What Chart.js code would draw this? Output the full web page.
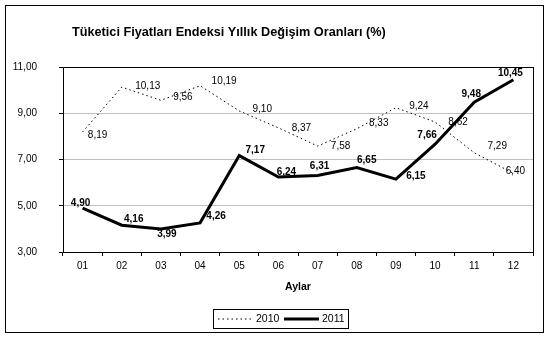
<!DOCTYPE html>
<html>
<head>
<meta charset="utf-8">
<script src="https://cdn.jsdelivr.net/npm/chart.js@4.4.0/dist/chart.umd.min.js"></script>
<style>
  html, body { margin: 0; padding: 0; background: #fff; }
  #wrap { width: 548px; height: 337px; }
</style>
</head>
<body>
<div id="wrap"><canvas id="cpi-chart" width="548" height="337"></canvas></div>
<script>
const months = ['01', '02', '03', '04', '05', '06', '07', '08', '09', '10', '11', '12'];
const cpi2010 = [8.19, 10.13, 9.56, 10.19, 9.10, 8.37, 7.58, 8.33, 9.24, 8.62, 7.29, 6.40];
const cpi2011 = [4.90, 4.16, 3.99, 4.26, 7.17, 6.24, 6.31, 6.65, 6.15, 7.66, 9.48, 10.45];
const yTicks = [3, 5, 7, 9, 11];

// where each value label sits relative to its point (dx, dy)
const offsets2010 = [[15,3],[26,-1],[22,-3],[24,-4],[23,-2],[23,0],[23,0],[22,-5],[23,-1],[23,0],[23,-7],[2,-2]];
const offsets2011 = [[-2,-5],[12,-6],[6,5],[16,-7],[16,-5],[8,-5],[2,-9],[10,-7],[20,-3],[-8,-9],[-3,-8],[-3,-6]];

const FONT = '"Liberation Sans", Arial, sans-serif';

function fmt(v) {
    return v.toFixed(2).replace('.', ',');
}

function drawLabels(chart, index, offsets, bold) {
    const ctx = chart.ctx;
    const meta = chart.getDatasetMeta(index);
    const values = chart.data.datasets[index].data;
    ctx.save();
    ctx.font = (bold ? 'bold ' : '') + '10px ' + FONT;
    ctx.fillStyle = '#000';
    ctx.textAlign = 'center';
    ctx.textBaseline = 'middle';
    meta.data.forEach((pt, i) => {
        ctx.fillText(fmt(values[i]), pt.x + offsets[i][0], pt.y + offsets[i][1]);
    });
    ctx.restore();
}

const decor = {
    id: 'decor',
    beforeDatasetsDraw(chart) {
        drawLabels(chart, 0, offsets2010, false);
    },
    afterDatasetsDraw(chart) {
        drawLabels(chart, 1, offsets2011, true);
    },
    afterDraw(chart) {
        const ctx = chart.ctx;
        const a = chart.chartArea;
        ctx.save();
        // outer frame
        ctx.strokeStyle = '#000';
        ctx.lineWidth = 1;
        ctx.strokeRect(5.5, 5.5, 538, 327);
        // plot frame
        ctx.strokeRect(Math.round(a.left) + 0.5, Math.round(a.top) + 0.5, Math.round(a.right - a.left), Math.round(a.bottom - a.top));

        ctx.fillStyle = '#000';
        ctx.textBaseline = 'alphabetic';
        ctx.font = 'bold 12.7px ' + FONT;
        ctx.textAlign = 'left';
        ctx.fillText('Tüketici Fiyatları Endeksi Yıllık Değişim Oranları (%)', 72, 36);

        ctx.font = 'bold 10.5px ' + FONT;
        ctx.textAlign = 'center';
        ctx.textBaseline = 'middle';
        ctx.fillText('Aylar', (a.left + a.right) / 2, 287);

        // legend
        ctx.strokeRect(213.5, 309.5, 135, 19);
        const ly = 319;
        ctx.beginPath();
        ctx.setLineDash([1.5, 3]);
        ctx.lineWidth = 1;
        ctx.moveTo(218, ly);
        ctx.lineTo(254, ly);
        ctx.stroke();
        ctx.setLineDash([]);
        ctx.beginPath();
        ctx.lineWidth = 3;
        ctx.moveTo(284, ly);
        ctx.lineTo(319, ly);
        ctx.stroke();
        ctx.font = '10.5px ' + FONT;
        ctx.textAlign = 'left';
        ctx.fillText('2010', 256, ly);
        ctx.fillText('2011', 322, ly);
        ctx.restore();
    }
};

new Chart(document.querySelector('#cpi-chart').getContext('2d'), {
    type: 'line',
    data: {
        labels: months,
        datasets: [{
            label: '2010',
            data: cpi2010,
            borderColor: '#000',
            borderWidth: 1,
            borderDash: [1.5, 3],
            pointRadius: 0,
            tension: 0,
            order: 1
        }, {
            label: '2011',
            data: cpi2011,
            borderColor: '#000',
            borderWidth: 3,
            pointRadius: 0,
            tension: 0,
            order: 0
        }]
    },
    options: {
        responsive: false,
        animation: false,
        events: [],
        layout: { padding: { left: 5, top: 67, right: 15, bottom: 0 } },
        plugins: {
            legend: { display: false },
            title: { display: false },
            tooltip: { enabled: false }
        },
        scales: {
            x: {
                offset: true,
                afterFit(scale) { scale.height = 85; },
                grid: { drawOnChartArea: false, drawTicks: true, tickLength: 4, tickColor: '#000', offset: true },
                border: { color: '#000', width: 1 },
                ticks: { color: '#000', font: { family: FONT, size: 10 }, padding: 4, maxRotation: 0 }
            },
            y: {
                min: 3,
                max: 11,
                afterFit(scale) { scale.width = 58; },
                afterBuildTicks(scale) { scale.ticks = yTicks.map(v => ({ value: v })); },
                grid: {
                    color: c => (c.tick && (c.tick.value === 3 || c.tick.value === 11)) ? 'rgba(0,0,0,0)' : '#c0c0c0',
                    tickColor: '#000',
                    tickLength: 4
                },
                border: { color: '#000', width: 1 },
                ticks: { color: '#000', font: { family: FONT, size: 10 }, padding: 22, callback: v => fmt(v) }
            }
        }
    },
    plugins: [decor]
});
</script>
</body>
</html>
